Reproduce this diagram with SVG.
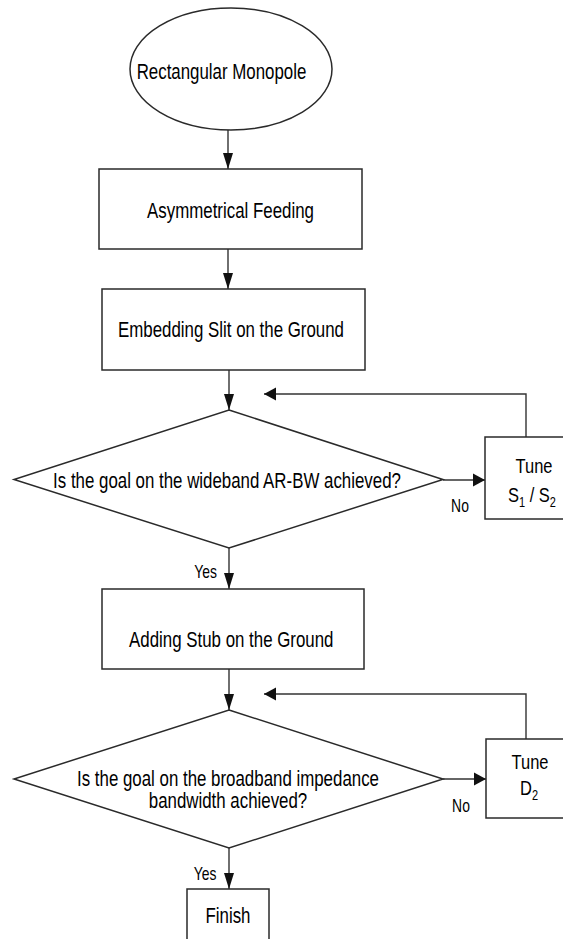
<svg xmlns="http://www.w3.org/2000/svg" width="563" height="939" viewBox="0 0 563 939">
<defs>
<style>
.shape{fill:#fff;stroke:#2a2a2a;stroke-width:1.5}
.line{fill:none;stroke:#333;stroke-width:1.4}
.t{font-family:"Liberation Sans",Arial,Helvetica,sans-serif;font-size:21.5px;fill:#000;text-anchor:middle}
.lab{font-family:"Liberation Sans",Arial,Helvetica,sans-serif;font-size:17.7px;fill:#000;text-anchor:middle}
.sub{font-size:14px}
</style>
<marker id="arrV" markerUnits="userSpaceOnUse" markerWidth="17" markerHeight="12" viewBox="0 -6 17 12" refX="16" refY="0" orient="auto">
<path d="M0,-5 L16,0 L0,5 z" fill="#111"/>
</marker>
<marker id="arrH" markerUnits="userSpaceOnUse" markerWidth="13" markerHeight="15" viewBox="0 -7.5 13 15" refX="12" refY="0" orient="auto">
<path d="M0,-6.5 L12,0 L0,6.5 z" fill="#111"/>
</marker>
</defs>
<rect width="563" height="939" fill="#fff"/>

<g id="connectors">
<path class="line" d="M228,130 V169" marker-end="url(#arrV)"/>
<path class="line" d="M228,249 V289" marker-end="url(#arrV)"/>
<path class="line" d="M229,370 V410" marker-end="url(#arrV)"/>
<path class="line" d="M443,480 H485" marker-end="url(#arrH)"/>
<path class="line" d="M526,437 V394 H264" marker-end="url(#arrH)"/>
<path class="line" d="M229,548 V589" marker-end="url(#arrV)"/>
<path class="line" d="M229,669 V710" marker-end="url(#arrV)"/>
<path class="line" d="M443,779 H486" marker-end="url(#arrH)"/>
<path class="line" d="M526,739 V694 H264" marker-end="url(#arrH)"/>
<path class="line" d="M229,848 V889" marker-end="url(#arrV)"/>
<text class="lab" transform="translate(460,512) scale(0.785,1)">No</text>
<text class="lab" transform="translate(205.5,578) scale(0.785,1)">Yes</text>
<text class="lab" transform="translate(461,812) scale(0.785,1)">No</text>
<text class="lab" transform="translate(205,880) scale(0.785,1)">Yes</text>
</g>

<g id="start">
<ellipse class="shape" cx="231" cy="69" rx="101" ry="61"/>
<text class="t" transform="translate(221.5,79) scale(0.785,1)">Rectangular Monopole</text>
</g>

<g id="asym-feeding">
<rect class="shape" x="99" y="169" width="263" height="80"/>
<text class="t" transform="translate(230.5,218) scale(0.785,1)">Asymmetrical Feeding</text>
</g>

<g id="embed-slit">
<rect class="shape" x="102" y="289" width="263" height="81"/>
<text class="t" transform="translate(231,337) scale(0.785,1)">Embedding Slit on the Ground</text>
</g>

<g id="decision-arbw">
<polygon class="shape" points="229,410 443,479.5 229,548 14,479.5"/>
<text class="t" transform="translate(227,488) scale(0.785,1)">Is the goal on the wideband AR-BW achieved?</text>
</g>

<g id="tune-s">
<rect class="shape" x="485" y="437" width="90" height="82"/>
<text class="t" transform="translate(534,473) scale(0.785,1)" style="font-size:21px">Tune</text>
<text class="t" transform="translate(532,502) scale(0.785,1)" style="font-size:21px">S<tspan class="sub" dy="5">1</tspan><tspan dy="-5"> / S</tspan><tspan class="sub" dy="5">2</tspan></text>
</g>

<g id="add-stub">
<rect class="shape" x="102" y="589" width="262" height="80"/>
<text class="t" transform="translate(231.3,647) scale(0.785,1)">Adding Stub on the Ground</text>
</g>

<g id="decision-imp">
<polygon class="shape" points="229,710 443,779 229,848 14,779"/>
<text class="t" transform="translate(228,786) scale(0.785,1)">Is the goal on the broadband impedance</text>
<text class="t" transform="translate(228,808) scale(0.785,1)">bandwidth achieved?</text>
</g>

<g id="tune-d">
<rect class="shape" x="486" y="739" width="90" height="79"/>
<text class="t" transform="translate(530,769) scale(0.785,1)" style="font-size:21px">Tune</text>
<text class="t" transform="translate(529,795) scale(0.785,1)" style="font-size:21px">D<tspan class="sub" dy="5">2</tspan></text>
</g>

<g id="finish">
<rect class="shape" x="187" y="889" width="82" height="60"/>
<text class="t" transform="translate(228,923) scale(0.785,1)">Finish</text>
</g>
</svg>
